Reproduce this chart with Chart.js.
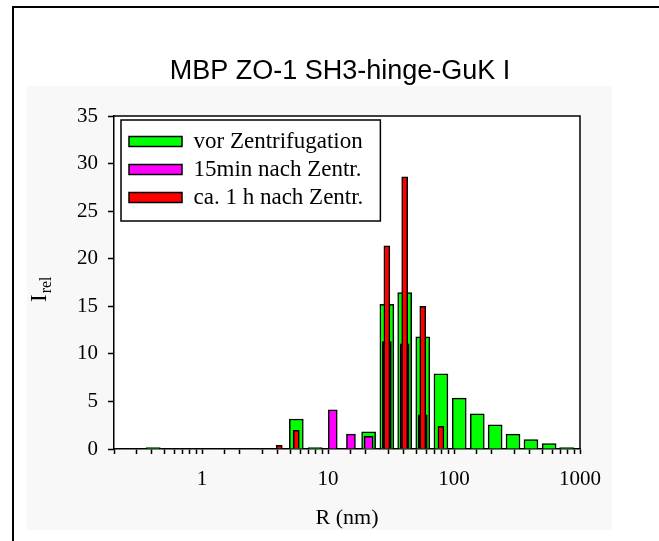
<!DOCTYPE html>
<html>
<head>
<meta charset="utf-8">
<script src="https://cdn.jsdelivr.net/npm/chart.js@4"></script>
<style>
  html, body { margin: 0; padding: 0; background: #fff; }
  #wrap { width: 659px; height: 541px; }
</style>
</head>
<body>
<div id="wrap"><canvas id="myChart" width="659" height="541"></canvas></div>
<script>
// bin centres R (nm)
const radii = [0.41, 4.1, 5.6, 7.9, 10.9, 15.2, 21, 29.3, 40.6, 56.5, 78.7, 110, 153, 212, 294, 408, 569, 783];
const vorZentr = [0.15, null, 3.15, 0.15, null, null, 1.8, 15.2, 16.45, 11.8, 7.9, 5.35, 3.7, 2.55, 1.57, 0.98, 0.56, 0.15];
const nach15min = [null, null, null, null, 4.13, 1.57, 1.33, 11.3, 11.05, 3.6, null, null, null, null, null, null, null, null];
const nach1h = [null, 0.38, 1.96, null, null, null, null, 21.35, 28.6, 15.0, 2.38, null, null, null, null, null, null, null];
const seriesNames = ['vor Zentrifugation', '15min nach Zentr.', 'ca. 1 h nach Zentr.'];
const xTickLabels = [1, 10, 100, 1000];

const points = vals => radii.map((r, i) => ({x: r, y: vals[i]}));

const serif = 'Liberation Serif';

const decor = {
  id: 'decor',
  beforeDraw(chart) {
    const c = chart.ctx, a = chart.chartArea;
    c.save();
    c.fillStyle = '#fff';
    c.fillRect(0, 0, chart.width, chart.height);
    c.fillStyle = '#f8f8f8';
    c.fillRect(27, 86, 585, 444);
    c.fillStyle = '#fff';
    c.fillRect(a.left, a.top, a.right - a.left, a.bottom - a.top);
    // outer frame
    c.strokeStyle = '#000';
    c.lineWidth = 2;
    c.beginPath();
    c.moveTo(13, 541);
    c.lineTo(13, 7);
    c.lineTo(659, 7);
    c.stroke();
    c.restore();
  },
  afterLayout(chart) {
    const lg = chart.legend, a = chart.chartArea, t = chart.titleBlock;
    const dx = a.left + 10 - lg.left, dy = a.top + 9 - lg.top;
    lg.left += dx; lg.right += dx; lg.top += dy; lg.bottom += dy;
    // title centred at x = 340
    const tx = 340 - (t.left + t.right) / 2;
    t.left += tx; t.right += tx;
  },
  afterDatasetsDraw(chart) {
    const c = chart.ctx, a = chart.chartArea, lg = chart.legend;
    c.save();
    c.strokeStyle = '#000';
    c.lineWidth = 1.5;
    c.beginPath();
    c.moveTo(a.left, a.top);
    c.lineTo(a.right, a.top);
    c.lineTo(a.right, a.bottom);
    c.stroke();
    // legend frame
    const w = Math.max(...lg.legendHitBoxes.map(h => h.width));
    c.strokeRect(lg.left - 3, lg.top - 5, w + 25, 101);
    // y axis title I_rel
    c.fillStyle = '#000';
    c.translate(40, 302);
    c.rotate(-Math.PI / 2);
    c.textBaseline = 'middle';
    c.textAlign = 'left';
    c.font = '23px "' + serif + '"';
    c.fillText('I', 0, 0);
    const iw = c.measureText('I').width;
    c.font = '16px "' + serif + '"';
    c.fillText('rel', iw + 1, 7);
    c.restore();
  }
};

const data = {
  datasets: [{
    label: seriesNames[0],
    data: points(vorZentr),
    backgroundColor: '#00ff00',
    borderColor: '#000',
    borderWidth: 1.5,
    barThickness: 14,
    order: 2
  }, {
    label: seriesNames[1],
    data: points(nach15min),
    backgroundColor: function (ctx) {
      if (ctx.raw && ctx.raw.x === 40.6) return '#6a0078';
      if (ctx.raw && (ctx.raw.x === 29.3 || ctx.raw.x === 56.5)) return '#000';
      return '#ff00ff';
    },
    borderColor: '#000',
    borderWidth: 1.5,
    barThickness: 9,
    order: 1
  }, {
    label: seriesNames[2],
    data: points(nach1h),
    backgroundColor: '#ff0000',
    borderColor: '#000',
    borderWidth: 1.5,
    barThickness: 6,
    order: 0
  }]
};

const config = {
  type: 'bar',
  data: data,
  options: {
    responsive: false,
    animation: false,
    grouped: false,
    layout: {
      padding: {left: 60, right: 79, top: 0, bottom: 0}
    },
    scales: {
      x: {
        type: 'logarithmic',
        min: 0.2,
        max: 1000,
        offset: false,
        grid: {offset: false, drawOnChartArea: false, drawTicks: true, tickLength: 5, tickColor: '#000', tickWidth: 1.5},
        border: {display: true, color: '#000', width: 1.5},
        ticks: {
          autoSkip: false,
          maxRotation: 0,
          color: '#000',
          padding: 13,
          font: {family: serif, size: 21},
          callback: function (value) {
            return xTickLabels.includes(value) ? String(value) : '';
          }
        },
        title: {
          display: true,
          text: 'R (nm)',
          color: '#000',
          font: {family: serif, size: 22},
          padding: {top: 0, bottom: 10}
        },
        afterFit: function (scale) { scale.height = 92; }
      },
      y: {
        min: 0,
        max: 35,
        grid: {drawOnChartArea: false, drawTicks: true, tickLength: 6, tickColor: '#000', tickWidth: 1.5},
        border: {display: true, color: '#000', width: 1.5},
        ticks: {
          stepSize: 5,
          color: '#000',
          padding: 10,
          font: {family: serif, size: 21}
        },
        afterFit: function (scale) { scale.width = 54; }
      }
    },
    plugins: {
      title: {
        display: true,
        text: 'MBP ZO-1 SH3-hinge-GuK I',
        color: '#000',
        font: {family: 'Liberation Sans', size: 27, weight: 'normal'},
        padding: {top: 55.8, bottom: 27.8}
      },
      legend: {
        display: true,
        position: 'chartArea',
        align: 'start',
        labels: {
          boxWidth: 53,
          boxHeight: 10,
          padding: 5,
          color: '#000',
          font: {family: serif, size: 23},
          sort: function (a, b) { return a.datasetIndex - b.datasetIndex; }
        }
      },
      tooltip: {enabled: false}
    }
  },
  plugins: [decor]
};

var myChart = new Chart(
  document.getElementById('myChart'),
  config
);
</script>
</body>
</html>
